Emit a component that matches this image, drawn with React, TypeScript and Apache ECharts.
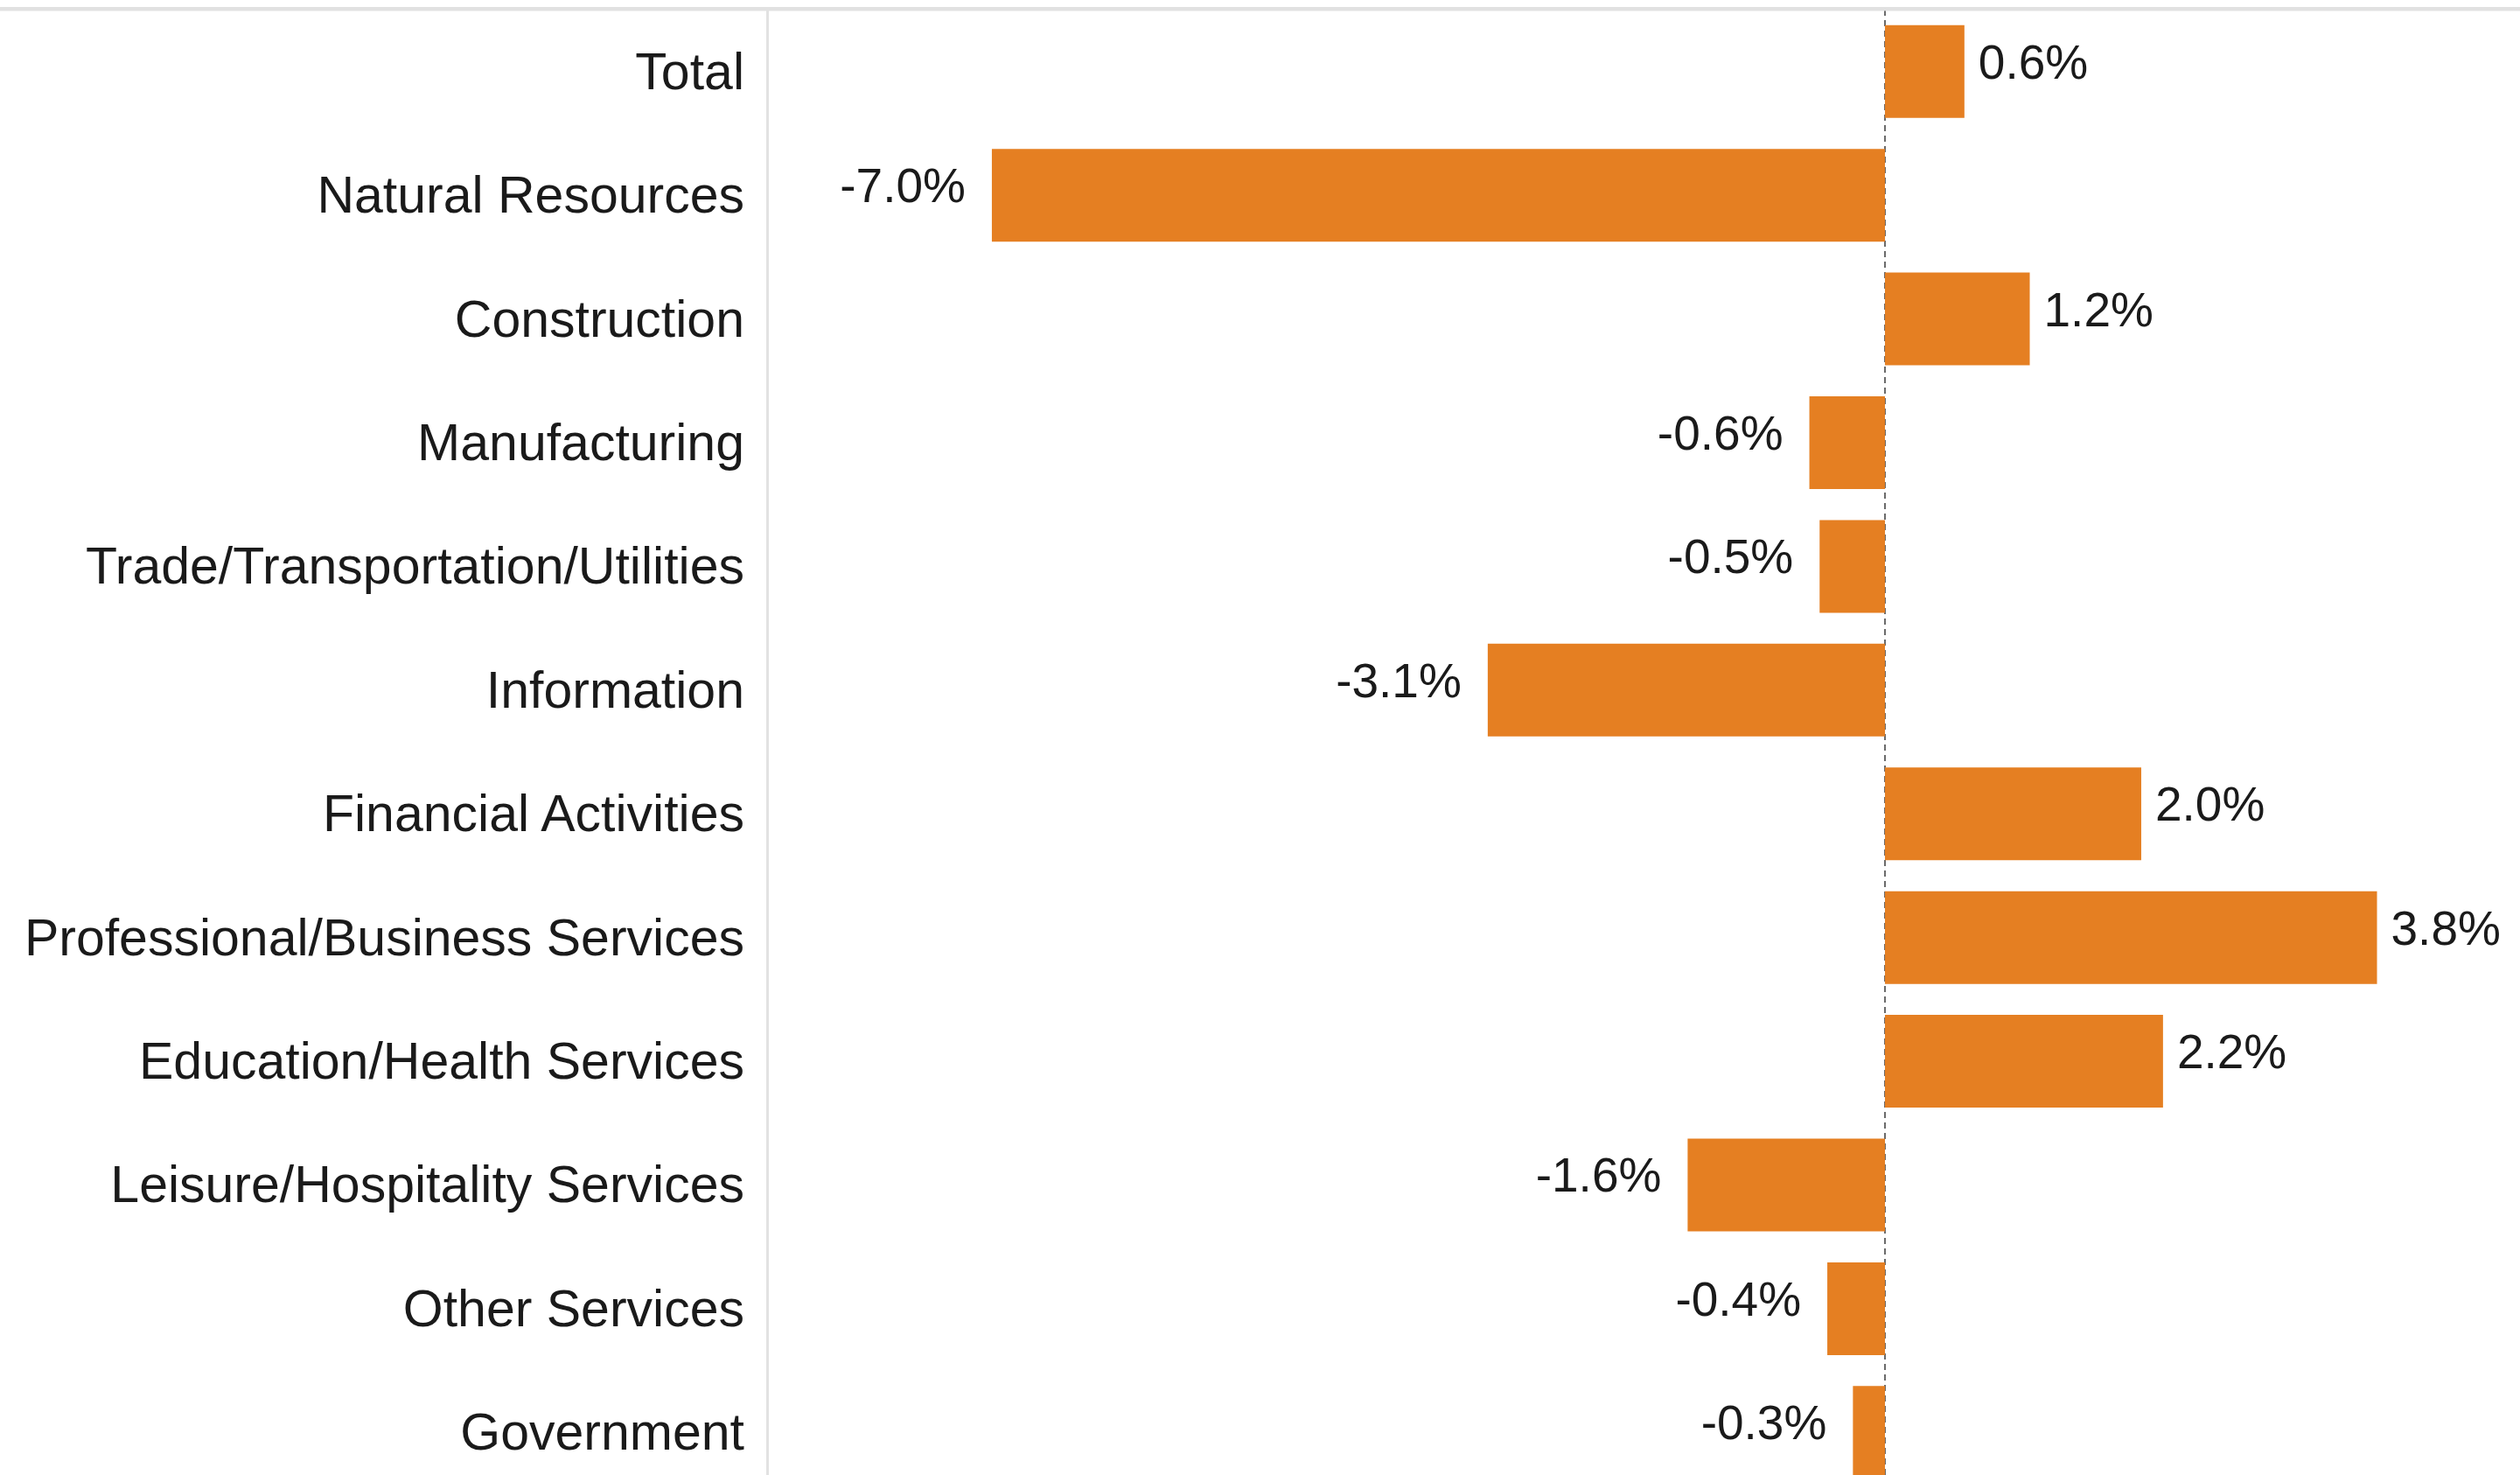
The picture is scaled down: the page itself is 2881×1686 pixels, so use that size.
import React, { useEffect, useRef } from "react";
import * as echarts from "echarts";

const categories = [
  "Total",
  "Natural Resources",
  "Construction",
  "Manufacturing",
  "Trade/Transportation/Utilities",
  "Information",
  "Financial Activities",
  "Professional/Business Services",
  "Education/Health Services",
  "Leisure/Hospitality Services",
  "Other Services",
  "Government",
];

const values = [0.62, -6.97, 1.13, -0.59, -0.51, -3.1, 2.0, 3.84, 2.17, -1.54, -0.45, -0.25];

const valueLabels = ["0.6%", "-7.0%", "1.2%", "-0.6%", "-0.5%", "-3.1%", "2.0%", "3.8%", "2.2%", "-1.6%", "-0.4%", "-0.3%"];

const FONT = "'Liberation Sans', Arial, sans-serif";

export default function App() {
  const ref = useRef<HTMLDivElement>(null);

  useEffect(() => {
    if (!ref.current) return;
    const chart = echarts.init(ref.current, null, { renderer: "svg" });
    const data = values.map((v, i) => ({
      value: v,
      label: {
        show: true,
        position: v >= 0 ? "right" : "left",
        distance: v >= 0 ? 16 : 30,
        formatter: () => valueLabels[i],
        fontSize: 55,
        fontFamily: FONT,
        color: "#1a1a1a",
        offset: [0, -11],
      },
    }));
    chart.setOption({
      animation: false,
      backgroundColor: "#ffffff",
      grid: { left: 877, right: 0, top: 11, bottom: 0, containLabel: false },
      xAxis: {
        type: "value",
        min: -8.724,
        max: 4.956,
        axisLine: { show: false },
        axisTick: { show: false },
        axisLabel: { show: false },
        splitLine: { show: false },
      },
      yAxis: {
        type: "category",
        inverse: true,
        data: categories,
        axisLine: { show: true, onZero: false, lineStyle: { color: "#e2e2e2", width: 3 } },
        axisTick: { show: false },
        splitLine: { show: false },
        axisLabel: {
          fontSize: 59,
          fontFamily: FONT,
          color: "#1a1a1a",
          margin: 26,
          padding: [0, 0, 8, 0],
        },
      },
      graphic: [
        {
          type: "rect",
          left: 0,
          top: 8,
          shape: { x: 0, y: 0, width: 2881, height: 4.5 },
          style: { fill: "#e1e1e1" },
          z: 10,
        },
      ],
      series: [
        {
          type: "bar",
          data,
          barWidth: 106,
          itemStyle: { color: "#E57F22" },
          markLine: {
            silent: true,
            symbol: ["none", "none"],
            label: { show: false },
            lineStyle: { color: "#6b6b6b", width: 2, type: [7, 5] },
            data: [{ xAxis: 0 }],
            z: 1,
          },
        },
      ],
    });
    return () => chart.dispose();
  }, []);

  return (
    <div
      ref={ref}
      style={{ position: "fixed", left: 0, top: 0, width: 2881, height: 1708, background: "#fff" }}
    />
  );
}
